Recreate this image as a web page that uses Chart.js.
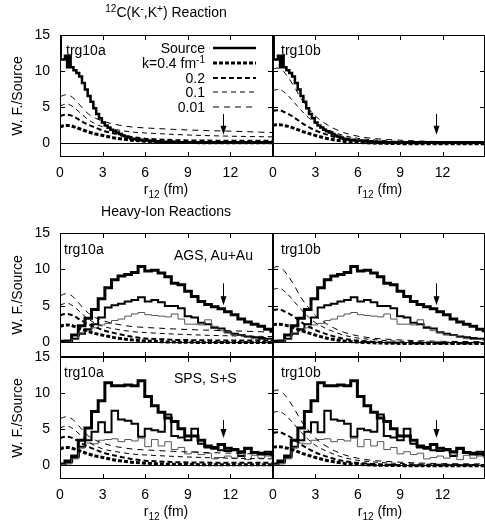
<!DOCTYPE html>
<html>
<head>
<meta charset="utf-8">
<script src="https://cdn.jsdelivr.net/npm/chart.js@4.4.0/dist/chart.umd.min.js"></script>
<style>
  body { margin: 0; background: #fff; }
  #wrap { position: relative; width: 485px; height: 522px; overflow: hidden; font-family: "Liberation Sans", Arial, sans-serif; color: #000; }
  #wrap canvas { position: absolute; left: 0; top: 0; }
  .t { position: absolute; font-size: 14px; line-height: 14px; white-space: nowrap; }
  .c { transform: translateX(-50%); }
  .t sup, .t sub { font-size: 10px; line-height: 0; }
  .t sup { vertical-align: 5px; }
  .t sub { vertical-align: -4px; }
</style>
</head>
<body>
<div id="wrap">
  <canvas id="tl" width="485" height="522"></canvas>
  <canvas id="tr" width="485" height="522"></canvas>
  <canvas id="ml" width="485" height="522"></canvas>
  <canvas id="mr" width="485" height="522"></canvas>
  <canvas id="bl" width="485" height="522"></canvas>
  <canvas id="br" width="485" height="522"></canvas>

  <div class="t c" style="left:166px;top:5px"><sup>12</sup>C(K<sup>-</sup>,K<sup>+</sup>) Reaction</div>
  <div class="t c" style="left:166px;top:204px">Heavy-Ion Reactions</div>
  <div class="t c" style="left:166px;top:182px">r<sub>12</sub> (fm)</div>
  <div class="t c" style="left:380px;top:182px">r<sub>12</sub> (fm)</div>
  <div class="t c" style="left:166px;top:504px">r<sub>12</sub> (fm)</div>
  <div class="t c" style="left:380px;top:504px">r<sub>12</sub> (fm)</div>

  <div class="t" style="left:66px;top:43px">trg10a</div>
  <div class="t" style="left:281px;top:43px">trg10b</div>
  <div class="t" style="left:64px;top:242px">trg10a</div>
  <div class="t" style="left:281px;top:242px">trg10b</div>
  <div class="t" style="left:64px;top:365px">trg10a</div>
  <div class="t" style="left:281px;top:365px">trg10b</div>
  <div class="t" style="left:174px;top:248px">AGS, Au+Au</div>
  <div class="t" style="left:174px;top:371px">SPS, S+S</div>

  <div class="t" style="right:280px;top:41px">Source</div>
  <div class="t" style="right:280px;top:56px">k=0.4 fm<sup>-1</sup></div>
  <div class="t" style="right:280px;top:71px">0.2</div>
  <div class="t" style="right:280px;top:85px">0.1</div>
  <div class="t" style="right:280px;top:100px">0.01</div>
</div>

<script>
// axis ticks
const xTicks = [0, 3, 6, 9, 12];
const yTicks = [0, 5, 10, 15];

// wave functions (same for every row), r grid in fm
const wfR = [0, 0.25, 0.5, 0.75, 1, 1.5, 2, 2.5, 3, 4, 5, 6, 7, 8, 10, 12, 15];
const wfA001 = [6.4, 6.6, 6.7, 6.5, 6.1, 5.0, 4.0, 3.4, 3.0, 2.5, 2.2, 2.05, 1.95, 1.85, 1.7, 1.6, 1.4];
const wfA01  = [5.1, 5.3, 5.4, 5.2, 4.9, 4.0, 3.2, 2.6, 2.2, 1.8, 1.5, 1.35, 1.25, 1.15, 1.0, 0.9, 0.8];
const wfA02  = [3.7, 3.85, 3.9, 3.8, 3.6, 3.0, 2.5, 2.1, 1.7, 1.2, 0.8, 0.55, 0.45, 0.35, 0.3, 0.25, 0.25];
const wfA04  = [2.2, 2.35, 2.4, 2.35, 2.2, 1.85, 1.5, 1.2, 1.0, 0.6, 0.35, 0.2, 0.1, 0.05, 0.0, 0.0, 0.0];
const wfB001 = [10.2, 10.4, 10.3, 9.9, 9.3, 7.8, 6.1, 4.8, 3.7, 2.3, 1.4, 0.9, 0.6, 0.45, 0.25, 0.15, 0.1];
const wfB01  = [7.2, 7.4, 7.4, 7.1, 6.7, 5.6, 4.5, 3.5, 2.7, 1.7, 1.0, 0.6, 0.4, 0.25, 0.1, 0.05, 0.0];
const wfB02  = [4.4, 4.5, 4.5, 4.3, 4.1, 3.5, 2.8, 2.2, 1.7, 1.0, 0.5, 0.25, 0.1, 0.0, -0.1, -0.1, -0.1];
const wfB04  = [2.4, 2.5, 2.5, 2.4, 2.3, 2.0, 1.6, 1.3, 1.0, 0.5, 0.2, 0.05, -0.05, -0.1, -0.15, -0.15, -0.15];

// 12C(K-,K+) source histogram: bin left edges and heights
const kkEdges = [0, 0.05, 0.35, 0.5, 0.6, 0.75, 0.95, 1.15, 1.35, 1.55, 1.75, 1.95, 2.15, 2.35, 2.55, 2.75, 2.95, 3.15, 3.35, 3.55, 3.75, 3.95, 4.15, 4.35, 4.55, 4.75, 4.95, 5.35, 5.75, 6.35, 7.0, 8.0, 15];
const kkSource = [16, 11.6, 12.1, 10.5, 12.1, 10.5, 10.1, 9.7, 9.2, 8.3, 7.4, 6.5, 5.7, 4.8, 4.0, 3.4, 2.8, 2.4, 2.1, 1.8, 1.6, 1.4, 1.2, 1.0, 0.85, 0.7, 0.55, 0.4, 0.3, 0.2, 0.12, 0.05];

// heavy-ion source histograms
const hiEdges = [0, 0.35, 0.82, 1.29, 1.76, 2.22, 2.69, 3.16, 3.63, 4.09, 4.56, 5.03, 5.50, 5.97, 6.44, 6.91, 7.38, 7.84, 8.31, 8.78, 9.25, 9.72, 10.19, 10.66, 11.13, 11.59, 12.06, 12.53, 13.00, 13.47, 13.94, 14.41, 14.88, 15];
const agsThick  = [0.15, 0.2, 1.0, 2.3, 3.3, 4.5, 6.0, 7.5, 8.6, 9.1, 9.3, 9.6, 10.4, 9.8, 9.9, 9.5, 9.0, 8.1, 7.9, 7.0, 6.3, 5.6, 5.2, 4.9, 4.6, 4.2, 3.8, 3.2, 2.8, 2.5, 2.2, 1.8, 1.6];
const agsMedium = [0.1, 0.1, 0.5, 1.2, 1.8, 2.5, 3.4, 4.8, 5.1, 5.3, 5.6, 5.8, 6.2, 5.6, 5.8, 5.5, 5.0, 5.0, 4.7, 3.6, 3.4, 2.7, 2.5, 2.0, 1.9, 1.4, 1.2, 1.0, 0.8, 0.7, 0.6, 0.5, 0.4];
const agsThin   = [0, 0.05, 0.4, 1.3, 1.6, 2.0, 2.4, 2.6, 3.0, 3.2, 3.6, 3.9, 4.1, 3.8, 3.7, 3.6, 3.5, 3.9, 3.2, 2.5, 2.5, 2.4, 3.1, 2.2, 1.6, 1.3, 1.0, 1.0, 0.7, 0.5, 0.4, 0.4, 0.3];
const spsThick  = [0.1, 0.5, 1.2, 3.4, 5.1, 7.4, 8.9, 11.4, 11.0, 11.0, 11.1, 11.0, 11.7, 9.5, 8.2, 7.3, 6.5, 6.0, 5.0, 4.0, 4.0, 3.4, 2.6, 2.4, 2.8, 2.3, 2.1, 1.8, 2.3, 1.7, 1.6, 1.5, 1.4];
const spsMedium = [0.05, 0.3, 1.0, 2.5, 3.4, 4.6, 5.9, 4.5, 7.5, 6.3, 6.1, 5.7, 3.9, 5.0, 4.8, 4.6, 7.0, 4.0, 3.8, 3.4, 5.0, 2.9, 2.4, 2.2, 2.0, 1.9, 2.0, 1.2, 2.2, 1.7, 1.4, 1.8, 1.5];
const spsThin   = [0, 0.1, 0.8, 2.3, 3.0, 2.9, 3.4, 3.5, 3.6, 3.2, 3.5, 3.3, 3.7, 2.5, 3.5, 2.6, 3.2, 2.1, 2.4, 1.5, 1.8, 1.4, 1.6, 0.8, 1.0, 1.2, 0.9, 1.5, 0.7, 1.3, 0.9, 1.2, 1.0];

// arrows at r = 11.5 fm: [start, tip]
const arrowR = 11.5;
const arrowKK = [4.0, 1.1];
const arrowAGS = [8.1, 5.1];
const arrowSPS = [6.2, 3.7];

Chart.defaults.font.family = '"Liberation Sans", Arial, sans-serif';
Chart.defaults.font.size = 14;
Chart.defaults.color = '#000';

const W = 485, H = 522;

function histo(edges, vals, width, color) {
    return {
        data: edges.map((x, i) => ({ x: x, y: vals[Math.min(i, vals.length - 1)] })),
        stepped: 'before',
        borderColor: color || '#000',
        borderWidth: width,
        pointRadius: 0,
        fill: false
    };
}

function curve(vals, width, dash) {
    return {
        data: wfR.map((x, i) => ({ x: x, y: vals[i] })),
        cubicInterpolationMode: 'monotone',
        borderColor: '#000',
        borderWidth: width,
        borderDash: dash,
        pointRadius: 0,
        fill: false
    };
}

function wfCurves(set) {
    return [
        curve(set[0], 3, [4, 2]),
        curve(set[1], 2, [5, 3]),
        curve(set[2], 1, [5, 4]),
        curve(set[3], 1, [6, 5])
    ];
}

// frame, zero line, inward ticks, arrow and legend samples
const framePlugin = {
    id: 'frame',
    afterDatasetsDraw(chart, args, opts) {
        const { ctx, chartArea: a } = chart;
        const x = chart.scales.x, y = chart.scales.y;
        ctx.save();
        ctx.strokeStyle = '#000';
        ctx.fillStyle = '#000';
        ctx.lineWidth = 1;
        ctx.setLineDash([]);

        const y0 = Math.round(y.getPixelForValue(0)) + 0.5;
        ctx.beginPath();
        ctx.moveTo(a.left, y0);
        ctx.lineTo(a.right, y0);
        ctx.stroke();

        ctx.strokeRect(a.left + 0.5, a.top + 0.5, a.right - a.left - 1, a.bottom - a.top - 1);

        ctx.beginPath();
        xTicks.forEach(v => {
            const px = Math.round(x.getPixelForValue(v)) + 0.5;
            ctx.moveTo(px, a.top); ctx.lineTo(px, a.top + 5);
            ctx.moveTo(px, a.bottom); ctx.lineTo(px, a.bottom - 5);
        });
        yTicks.forEach(v => {
            const py = Math.round(y.getPixelForValue(v)) + 0.5;
            ctx.moveTo(a.left, py); ctx.lineTo(a.left + 5, py);
            ctx.moveTo(a.right, py); ctx.lineTo(a.right - 5, py);
        });
        ctx.stroke();

        if (opts.arrow) {
            const ax = Math.round(x.getPixelForValue(arrowR)) + 0.5;
            const ay1 = y.getPixelForValue(opts.arrow[0]);
            const ay2 = y.getPixelForValue(opts.arrow[1]);
            ctx.beginPath();
            ctx.moveTo(ax, ay1);
            ctx.lineTo(ax, ay2 - 4);
            ctx.stroke();
            ctx.beginPath();
            ctx.moveTo(ax, ay2);
            ctx.lineTo(ax - 3, ay2 - 9);
            ctx.lineTo(ax + 3, ay2 - 9);
            ctx.closePath();
            ctx.fill();
        }

        if (opts.legend) {
            const rows = [48, 63, 78, 92, 107];
            chart.data.datasets.forEach((ds, i) => {
                ctx.beginPath();
                ctx.lineWidth = ds.borderWidth;
                ctx.setLineDash(ds.borderDash || []);
                ctx.moveTo(213, rows[i]);
                ctx.lineTo(256, rows[i]);
                ctx.stroke();
            });
        }
        ctx.restore();
    }
};

function panel(id, area, datasets, showX, showY, frameOpts) {
    new Chart(document.getElementById(id), {
        type: 'line',
        data: { datasets: datasets },
        options: {
            responsive: false,
            animation: false,
            devicePixelRatio: 1,
            layout: {
                padding: {
                    left: showY ? area.left - 60 : area.left,
                    top: area.top,
                    right: W - area.right,
                    bottom: H - area.bottom - 40
                }
            },
            plugins: {
                legend: { display: false },
                tooltip: { enabled: false },
                frame: frameOpts
            },
            scales: {
                x: {
                    type: 'linear',
                    min: 0,
                    max: 15,
                    grid: { display: false, drawTicks: false },
                    border: { display: false },
                    ticks: { display: showX, padding: 8, autoSkip: false, maxRotation: 0 },
                    afterBuildTicks: s => { s.ticks = xTicks.map(v => ({ value: v })); },
                    afterFit: s => { s.height = 40; }
                },
                y: {
                    type: 'linear',
                    min: -2,
                    max: 15,
                    grid: { display: false, drawTicks: false },
                    border: { display: false },
                    ticks: { display: showY, padding: 10, autoSkip: false },
                    title: { display: showY, text: 'W. F./Source', padding: { top: 10, bottom: 0 } },
                    afterBuildTicks: s => { s.ticks = yTicks.map(v => ({ value: v })); },
                    afterFit: s => { s.width = showY ? 60 : 0; }
                }
            }
        },
        plugins: [framePlugin]
    });
}

const setA = [wfA04, wfA02, wfA01, wfA001];
const setB = [wfB04, wfB02, wfB01, wfB001];

const colL = { left: 60, right: 273 };
const colR = { left: 273, right: 485 };
const rowT = { top: 35, bottom: 157 };
const rowM = { top: 233, bottom: 357 };
const rowB = { top: 357, bottom: 479 };

function area(c, r) { return { left: c.left, right: c.right, top: r.top, bottom: r.bottom }; }

function hiSets(thick, medium, thin) {
    return [histo(hiEdges, thin, 1, '#555'), histo(hiEdges, medium, 2), histo(hiEdges, thick, 3)];
}

// top row: source first so legend rows line up with datasets
panel('tl', area(colL, rowT), [histo(kkEdges, kkSource, 2.5)].concat(wfCurves(setA)), true, true, { arrow: arrowKK, legend: true });
panel('tr', area(colR, rowT), [histo(kkEdges, kkSource, 2.5)].concat(wfCurves(setB)), true, false, { arrow: arrowKK });

panel('ml', area(colL, rowM), wfCurves(setA).concat(hiSets(agsThick, agsMedium, agsThin)), false, true, { arrow: arrowAGS });
panel('mr', area(colR, rowM), wfCurves(setB).concat(hiSets(agsThick, agsMedium, agsThin)), false, false, { arrow: arrowAGS });

panel('bl', area(colL, rowB), wfCurves(setA).concat(hiSets(spsThick, spsMedium, spsThin)), true, true, { arrow: arrowSPS });
panel('br', area(colR, rowB), wfCurves(setB).concat(hiSets(spsThick, spsMedium, spsThin)), true, false, { arrow: arrowSPS });
</script>
</body>
</html>
